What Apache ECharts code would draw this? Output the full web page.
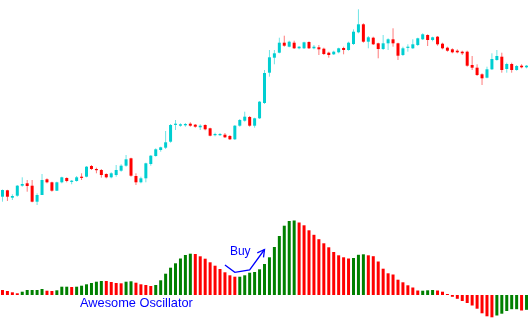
<!DOCTYPE html>
<html><head><meta charset="utf-8">
<script src="https://cdn.jsdelivr.net/npm/echarts@6/dist/echarts.min.js"></script>
<style>html,body{margin:0;padding:0;background:#fff}#c{width:529px;height:332px}</style>
</head><body><div id="c"></div>
<script>
// Price candles (arbitrary price units)
const openP = [53.3,59.7,52.3,54.3,64.3,66.7,64.3,48.3,55,70.7,67.7,59.3,67.7,72,68.3,69,73.3,73.3,84,81,80,76,72.7,75,79.3,84.3,91.7,74,67.7,71.7,86,94,100,102.3,108.3,125.7,124.3,124.7,126.3,125.3,122.7,125,121.7,115,115,115.3,114,110.7,124.3,129.3,133,124.3,131.7,147,
177.3,192.3,197.3,207.3,203.3,207.3,201.7,201.7,208,201.7,202.7,201.3,197.3,195.7,197.7,202,200,206,217.7,225.7,208.3,212.3,206.7,201,206.7,210.7,206.7,195,202.3,201.7,205,210.7,215,210,213.3,206.3,202.3,200.7,199.3,198.3,198.3,185,182.3,175.7,172.3,180.7,190,193.3,181,186,180,184.3,182.7];
const closeP = [60,53.3,54,64.3,66,64,48.3,55,70,67.7,59.3,67.7,72.7,69,69.3,72.7,72.3,83.3,81,80,75,72.7,76.7,80,84.3,90.7,74.3,67.7,71.7,86.7,94.3,100.7,102.7,107.7,125,126.3,125.7,126,124.3,123.3,124.3,120.7,114.3,116,116,112.7,110.7,124.3,130,133.3,124.3,131.7,148.3,177,
192.7,196.7,207.3,204.3,208.3,201.7,203.3,207.7,201.7,203.3,200.7,196,195,198.3,201.7,200,207.3,218.3,225.7,208.3,212.7,205.7,201,206.7,210.7,206.7,194.3,201.7,203.3,205.7,211.7,215.7,210,212.7,205.7,201.7,199.3,197.7,197.7,196.7,184.3,182.3,175,171.7,180.7,191,194,180,186,180,184,182.7,184.3];
const lowP = [48.3,49,50,53.3,63.3,58.3,47.7,45,55,66.7,58.3,59,66.7,67.7,65.7,68.3,70,72.7,80,76.7,72.3,71.7,71.7,73.3,78.3,83.3,73.3,65,66.7,67.7,84.3,93.3,98.3,101,107.3,120,123.3,123.3,123.3,122.3,120,119.7,113.7,113.7,114,112,110,110,123.3,128.3,123.3,122.3,131,146,
173.3,185.7,196.7,203.3,202.7,201,200.7,201,201,200.7,195,195,192.3,195,196.7,195.7,199.3,205,216.7,207.3,201.7,205,191.7,200,200,203.3,190,194,198.3,201,204,210,204,208.7,204.3,200.7,198.3,196.7,196.7,195,183.3,180,174,165,171.7,180,189.3,177.3,177.3,177.3,179.3,181.7,181.7];
const highP = [60.5,60.2,55.7,65,72.7,70,70,56.7,76,71.7,68.3,68.3,73.3,72.7,70,74,76.7,84,85,82.3,81,76.7,77.7,85,85.7,95,92.3,76.7,73.3,87.3,95,101.7,103.3,119,126,130,126.7,127,127.7,126,125.7,125.7,122.3,117.3,117,117,115,125,131,138.3,134,132.3,149,180,
200,200,212.3,214.3,209.3,209.3,204,208.3,208.7,205,205,202.3,198.3,199.3,202.3,203.3,208.3,220.7,240.7,226.7,214,213.3,207.3,215,211.7,221.7,207.3,203.3,205.7,210.7,212.3,216.7,215.7,213.3,214,207.3,203.3,201.7,200.7,199.3,199.3,194,185.7,176.7,183.3,196.7,200,197.3,187.3,187.3,185,185.7,185];

// Awesome Oscillator histogram
const aoValues = [5,4,2.7,1.7,3.3,5,5,5,6,4.3,4,4.7,8.3,8.3,8,8.3,9.3,10.7,12,13.3,14,14,13,12,11.7,13.3,13.7,12.3,10.7,10,9,10,14.7,21.3,27.3,31.7,36.5,40,41.3,41,38.7,36.3,32.7,29.3,26,22.7,19.7,18.3,18.3,19.7,22.3,23,25.7,31,37.7,48,59,69.3,74,74.5,72.5,69.7,64.7,60.2,55.8,51.7,47.7,43,39.7,37.7,36.5,37,40.2,40.7,39.7,38.8,33.5,26.3,21.7,20.5,15.3,12.7,9.7,7.5,4.5,4.3,4.7,5,4.5,3.3,1,-1.8,-3.8,-6,-8,-10.5,-13.7,-18.3,-21.3,-22.3,-20.5,-18.7,-16,-14.2,-14.2,-15.5,-14.8];
const aoColors = ("RRRR"+"GGGGG"+"RR"+"GGG"+"R"+"GGGGGG"+"RRRR"+"GG"+"RRRR"+"GGGGGGGG"+"RRRRRRRRR"+"GGGGGGGGGGGG"+"RRRRRRRRRRR"+"GGG"+"RRRRRRRRRRR"+"GGG"+"RRRRRRRRRRRR"+"GGGGG"+"R"+"G").split('');

// "Buy" annotation arrow (bar index, oscillator value)
const buyArrowX = [45.0, 47.2, 49.9, 52.9];
const buyArrowY = [30, 22.7, 25, 45.5];
const buyText = 'Buy';
const buyTextPos = [45.74, 39.5];
const paneLabel = 'Awesome Oscillator';

const categories = openP.map((_, i) => String(i + 1));

const UP = '#00CED1', DOWN = '#FF0000', UPW = '#70E4E6', DOWNW = '#FF7A7A';
const AO_G = '#008000', AO_R = '#FF0000';

const chart = echarts.init(document.getElementById('c'), null, {renderer: 'canvas'});

const candleData = openP.map((o, i) => [i, o, closeP[i], lowP[i], highP[i]]);

chart.setOption({
  animation: false,
  backgroundColor: '#ffffff',
  grid: [
    {left: -1, width: 530, top: 0, height: 250},
    {left: -1, width: 530, top: 215, height: 110}
  ],
  xAxis: [
    {type: 'category', data: categories, gridIndex: 0, show: false, boundaryGap: true},
    {type: 'category', data: categories, gridIndex: 1, show: false, boundaryGap: true}
  ],
  yAxis: [
    {type: 'value', gridIndex: 0, min: 0, max: 250, show: false, splitLine: {show: false}},
    {type: 'value', gridIndex: 1, min: -30, max: 80, show: false, splitLine: {show: false}}
  ],
  series: [
    {
      type: 'custom', xAxisIndex: 0, yAxisIndex: 0, clip: false,
      data: candleData,
      encode: {x: 0, y: [1, 2, 3, 4]},
      renderItem: function (params, api) {
        const i = api.value(0), o = api.value(1), c = api.value(2), l = api.value(3), h = api.value(4);
        const pO = api.coord([i, o]), pC = api.coord([i, c]), pL = api.coord([i, l]), pH = api.coord([i, h]);
        const up = c >= o;
        const x = pO[0];
        const top = Math.min(pO[1], pC[1]), bot = Math.max(pO[1], pC[1]);
        return {type: 'group', children: [
          {type: 'line', shape: {x1: x, y1: pH[1], x2: x, y2: pL[1]}, style: {stroke: up ? UPW : DOWNW, lineWidth: 1}},
          {type: 'rect', shape: {x: x - 1.5, y: top, width: 3, height: Math.max(bot - top, 1.2)}, style: {fill: up ? UP : DOWN}}
        ]};
      }
    },
    {
      type: 'bar', xAxisIndex: 1, yAxisIndex: 1, barWidth: 3,
      data: aoValues.map((v, i) => ({value: v, itemStyle: {color: aoColors[i] === 'G' ? AO_G : AO_R}}))
    },
    {
      type: 'custom', xAxisIndex: 1, yAxisIndex: 1, clip: false,
      data: [[0, 0]],
      renderItem: function (params, api) {
        const pts = buyArrowX.map((x, k) => api.coord([x, buyArrowY[k]]));
        const tip = pts[pts.length - 1], prev = pts[pts.length - 2];
        const ang = Math.atan2(tip[1] - prev[1], tip[0] - prev[0]);
        const len = 8, spread = 0.5;
        const b1 = [tip[0] - len * Math.cos(ang - spread), tip[1] - len * Math.sin(ang - spread)];
        const b2 = [tip[0] - len * Math.cos(ang + spread), tip[1] - len * Math.sin(ang + spread)];
        const tp = api.coord(buyTextPos);
        return {type: 'group', children: [
          {type: 'polyline', shape: {points: pts}, style: {stroke: '#0000FF', lineWidth: 1.3, fill: null}},
          {type: 'polyline', shape: {points: [b1, tip, b2]}, style: {stroke: '#0000FF', lineWidth: 1.3, fill: null}},
          {type: 'text', style: {text: buyText, x: tp[0], y: tp[1] - 3.7, fill: '#0000FF', font: '12px "Liberation Sans", Arial, sans-serif', align: 'left', verticalAlign: 'middle'}}
        ]};
      }
    }
  ],
  graphic: [
    {type: 'text', left: 80, top: 297, style: {text: paneLabel, fill: '#0000FF', font: '12.8px "Liberation Sans", Arial, sans-serif'}}
  ]
});
</script>
</body></html>
